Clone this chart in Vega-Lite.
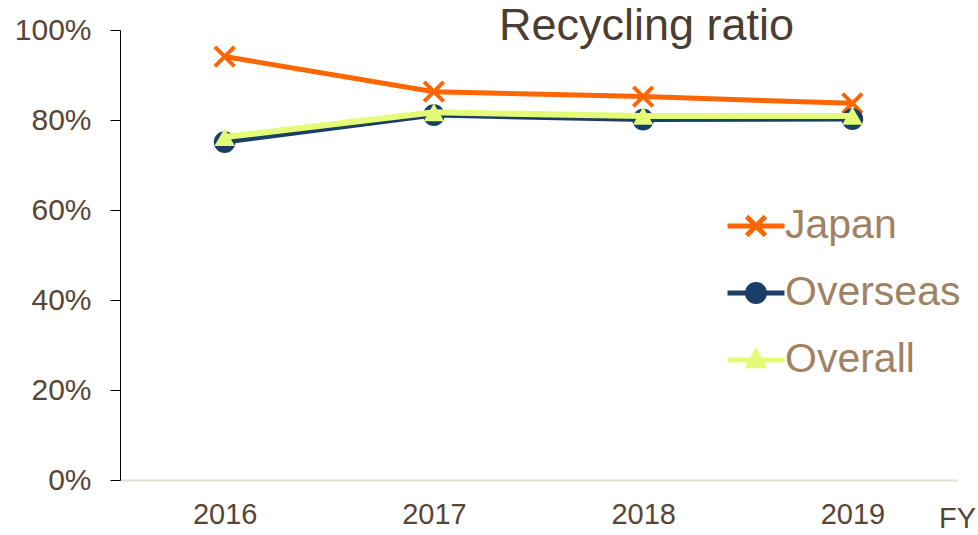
{
  "$schema": "https://vega.github.io/schema/vega-lite/v6.json",
  "width": 837,
  "height": 450,
  "autosize": {"type": "none"},
  "padding": {"left": 120, "top": 30, "right": 21, "bottom": 55},
  "background": "white",
  "config": {
    "font": "Liberation Sans",
    "view": {"stroke": null}
  },
  "title": {
    "text": "Recycling ratio",
    "fontSize": 45,
    "fontWeight": "normal",
    "color": "#4a3e33",
    "anchor": "middle",
    "frame": "group",
    "dx": 108,
    "dy": 70,
    "offset": 0,
    "baseline": "alphabetic"
  },
  "data": {
    "values": [
      {"FY": "2016", "series": "Japan", "ratio": 0.941},
      {"FY": "2017", "series": "Japan", "ratio": 0.863},
      {"FY": "2018", "series": "Japan", "ratio": 0.852},
      {"FY": "2019", "series": "Japan", "ratio": 0.837},
      {"FY": "2016", "series": "Overseas", "ratio": 0.751},
      {"FY": "2017", "series": "Overseas", "ratio": 0.811},
      {"FY": "2018", "series": "Overseas", "ratio": 0.801},
      {"FY": "2019", "series": "Overseas", "ratio": 0.802},
      {"FY": "2016", "series": "Overall", "ratio": 0.762},
      {"FY": "2017", "series": "Overall", "ratio": 0.817},
      {"FY": "2018", "series": "Overall", "ratio": 0.809},
      {"FY": "2019", "series": "Overall", "ratio": 0.809}
    ]
  },
  "encoding": {
    "x": {
      "field": "FY",
      "type": "ordinal",
      "scale": {"type": "point", "padding": 0.5},
      "axis": {
        "title": "FY",
        "titleX": 837,
        "titleY": 38,
        "titleAlign": "center",
        "titleBaseline": "middle",
        "titleFontSize": 29,
        "titleFontWeight": "normal",
        "titleColor": "#574636",
        "labelAngle": 0,
        "labelFontSize": 29,
        "labelColor": "#574636",
        "labelPadding": 20,
        "ticks": false,
        "tickSize": 0,
        "domainColor": "#e4dfd8",
        "domainWidth": 2,
        "grid": false
      }
    },
    "y": {
      "field": "ratio",
      "type": "quantitative",
      "scale": {"domain": [0, 1]},
      "axis": {
        "title": null,
        "values": [0, 0.2, 0.4, 0.6, 0.8, 1],
        "format": ".0%",
        "labelFontSize": 30,
        "labelColor": "#574636",
        "labelPadding": 19,
        "tickSize": 10,
        "tickColor": "#000000",
        "domainColor": "#000000",
        "grid": false
      }
    }
  },
  "layer": [
    {
      "transform": [{"filter": "datum.series == 'Japan'"}],
      "mark": {"type": "line", "color": "#ff6600", "strokeWidth": 5}
    },
    {
      "transform": [{"filter": "datum.series == 'Japan'"}],
      "mark": {"type": "point", "shape": "M-1,-1L1,1M-1,1L1,-1", "filled": false, "color": "#ff6600", "strokeWidth": 4, "size": 380, "opacity": 1}
    },
    {
      "transform": [{"filter": "datum.series == 'Overseas'"}],
      "mark": {"type": "line", "color": "#1b3e68", "strokeWidth": 5}
    },
    {
      "transform": [{"filter": "datum.series == 'Overseas'"}],
      "mark": {"type": "point", "shape": "circle", "filled": true, "color": "#1b3e68", "size": 470, "opacity": 1}
    },
    {
      "transform": [{"filter": "datum.series == 'Overall'"}],
      "mark": {"type": "line", "color": "#e4fb78", "strokeWidth": 6}
    },
    {
      "transform": [{"filter": "datum.series == 'Overall'"}],
      "mark": {"type": "point", "shape": "triangle-up", "filled": true, "color": "#e4fb78", "size": 420, "opacity": 1}
    },
    {
      "transform": [{"filter": "datum.series == 'none'"}],
      "mark": {"type": "point", "filled": true, "opacity": 1, "strokeWidth": 5},
      "encoding": {
        "fill": {
          "field": "series",
          "type": "nominal",
          "scale": {"domain": ["Japan", "Overseas", "Overall"], "range": ["#ff6600", "#1b3e68", "#e4fb78"]},
          "legend": {
            "title": null,
            "orient": "none",
            "legendX": 605,
            "legendY": 165,
            "symbolSize": 3249,
            "symbolStrokeWidth": 5,
            "labelFontSize": 41,
            "labelColor": "#9f8262",
            "labelOffset": -2,
            "rowPadding": 16,
            "labelLimit": 400
          }
        },
        "stroke": {
          "field": "series",
          "type": "nominal",
          "scale": {"domain": ["Japan", "Overseas", "Overall"], "range": ["#ff6600", "#1b3e68", "#e4fb78"]},
          "legend": {
            "title": null,
            "orient": "none",
            "legendX": 605,
            "legendY": 165,
            "symbolSize": 3249,
            "symbolStrokeWidth": 5,
            "labelFontSize": 41,
            "labelColor": "#9f8262",
            "labelOffset": -2,
            "rowPadding": 16,
            "labelLimit": 400
          }
        },
        "shape": {
          "field": "series",
          "type": "nominal",
          "scale": {
            "domain": ["Japan", "Overseas", "Overall"],
            "range": [
              "M-1,0H1M-0.33,-0.33L0.33,0.33M-0.33,0.33L0.33,-0.33",
              "M-1,0H1M-0.3,0A0.3,0.3,0,1,0,0.3,0A0.3,0.3,0,1,0,-0.3,0Z",
              "M-1,0H1M0,-0.28L0.25,0.2L-0.25,0.2Z"
            ]
          },
          "legend": {
            "title": null,
            "orient": "none",
            "legendX": 605,
            "legendY": 165,
            "symbolSize": 3249,
            "symbolStrokeWidth": 5,
            "labelFontSize": 41,
            "labelColor": "#9f8262",
            "labelOffset": -2,
            "rowPadding": 16,
            "labelLimit": 400
          }
        }
      }
    }
  ]
}
